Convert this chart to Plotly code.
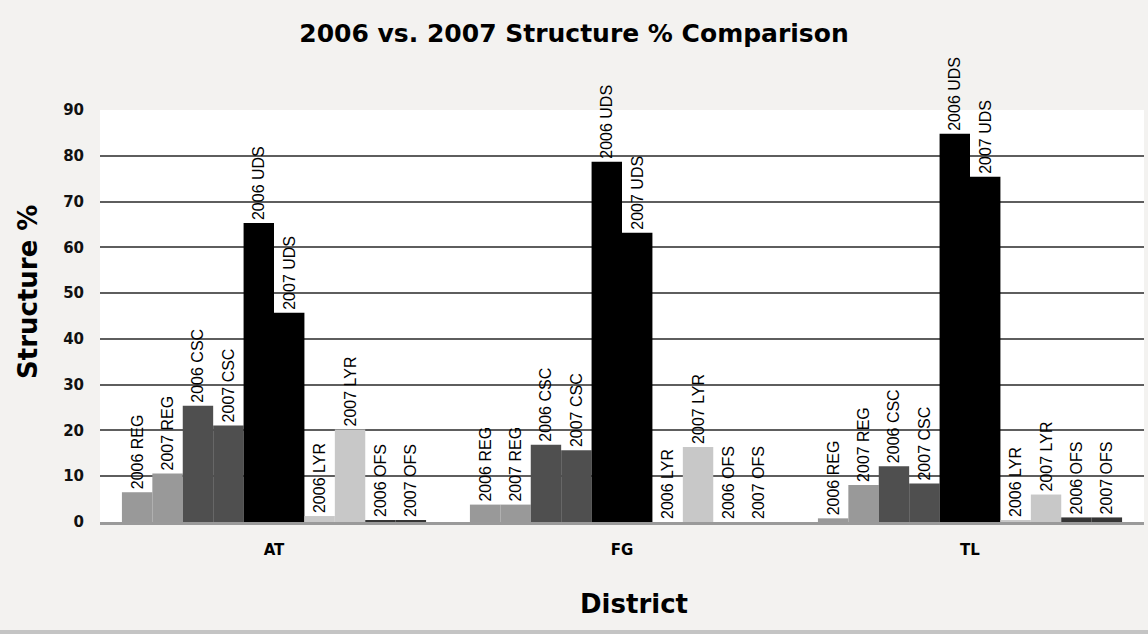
import plotly.graph_objects as go

# Districts on the category axis
districts = ["AT", "FG", "TL"]

# Structure % per series, in district order (AT, FG, TL)
series_names = [
    "2006 REG", "2007 REG",
    "2006 CSC", "2007 CSC",
    "2006 UDS", "2007 UDS",
    "2006 LYR", "2007 LYR",
    "2006 OFS", "2007 OFS",
]
reg_2006 = [6.5, 3.8, 0.8]
reg_2007 = [10.6, 3.8, 8.1]
csc_2006 = [25.4, 16.9, 12.2]
csc_2007 = [21.1, 15.7, 8.4]
uds_2006 = [65.3, 78.7, 84.8]
uds_2007 = [45.7, 63.2, 75.4]
lyr_2006 = [1.3, 0.0, 0.3]
lyr_2007 = [20.2, 16.4, 6.0]
ofs_2006 = [0.4, 0.0, 1.0]
ofs_2007 = [0.4, 0.0, 1.0]

series_values = [
    reg_2006, reg_2007,
    csc_2006, csc_2007,
    uds_2006, uds_2007,
    lyr_2006, lyr_2007,
    ofs_2006, ofs_2007,
]

# One grey shade per structure type, shared by both years
type_colors = {
    "REG": "#999999",
    "CSC": "#4f4f4f",
    "UDS": "#000000",
    "LYR": "#c8c8c8",
    "OFS": "#353535",
}

y_ticks = [0, 10, 20, 30, 40, 50, 60, 70, 80, 90]

fig = go.Figure()
for name, vals in zip(series_names, series_values):
    kind = name.split()[1]
    fig.add_trace(go.Bar(
        name=name,
        x=districts,
        y=vals,
        marker=dict(color=type_colors[kind], line=dict(width=0)),
        text=[name] * len(districts),
        textposition="outside",
        textangle=-90,
        constraintext="none",
        cliponaxis=False,
        textfont=dict(family="Liberation Sans, Arial, sans-serif", size=16, color="#000000"),
        hoverinfo="x+y+name",
    ))

W, H = 1148, 634
m_l, m_r, m_t, m_b = 100, 4, 110, 112
plot_h = H - m_t - m_b
plot_w = W - m_l - m_r

title_font = dict(family="DejaVu Sans, sans-serif", color="#000000")

fig.update_layout(
    width=W,
    height=H,
    barmode="group",
    bargap=0.126,
    bargroupgap=0,
    showlegend=False,
    paper_bgcolor="#f3f2f0",
    plot_bgcolor="#ffffff",
    margin=dict(l=m_l, r=m_r, t=m_t, b=m_b, pad=0),
    title=dict(
        text="<b>2006 vs. 2007 Structure % Comparison</b>",
        x=0.5, xanchor="center",
        y=1 - 33 / H, yanchor="middle",
        font=dict(**title_font, size=25),
    ),
    xaxis=dict(
        tickfont=dict(family="DejaVu Sans, sans-serif", size=15, color="#000000", weight="bold"),
        ticks="outside", ticklen=12, tickcolor="rgba(0,0,0,0)",
        showline=True, linecolor="#9a9a9a", linewidth=3,
        showgrid=False,
    ),
    yaxis=dict(
        range=[0, 90],
        tickvals=y_ticks,
        tickfont=dict(family="DejaVu Sans, sans-serif", size=15, color="#111111", weight="bold"),
        ticks="outside", ticklen=12, tickcolor="rgba(0,0,0,0)",
        showgrid=True, gridcolor="#5e5e5e", gridwidth=1.5,
        zeroline=False,
        showline=False,
    ),
    annotations=[
        dict(
            text="<b>Structure %</b>", textangle=-90,
            xref="paper", yref="paper",
            x=-(m_l - 28) / plot_w, y=(H - m_b - 292) / plot_h,
            xanchor="center", yanchor="middle", showarrow=False,
            font=dict(**title_font, size=26),
        ),
        dict(
            text="<b>District</b>",
            xref="paper", yref="paper",
            x=(634 - m_l) / plot_w, y=-(604 - (H - m_b)) / plot_h,
            xanchor="center", yanchor="middle", showarrow=False,
            font=dict(**title_font, size=26),
        ),
    ],
    shapes=[
        # thin grey band along the bottom edge of the page
        dict(
            type="rect", xref="paper", yref="paper",
            x0=-m_l / plot_w, x1=1 + m_r / plot_w,
            y0=-m_b / plot_h, y1=-(m_b - 4) / plot_h,
            fillcolor="#c4c4c4", line=dict(width=0), layer="below",
        ),
    ],
)

fig.write_html("out.html")
